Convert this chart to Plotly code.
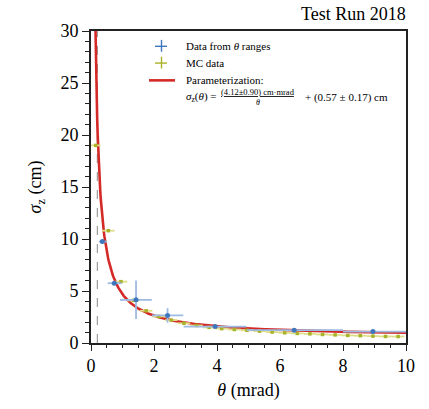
import numpy as np
import plotly.graph_objects as go

# ---------------- data ----------------
data_theta = [0.36, 0.74, 1.43, 2.43, 3.94, 6.45, 8.95]
data_sigma = [9.75, 5.75, 4.15, 2.65, 1.58, 1.23, 1.10]
data_theta_err_minus = [0.11, 0.21, 0.51, 0.50, 1.00, 1.50, 0.95]
data_theta_err_plus = [0.14, 0.23, 0.50, 0.50, 1.00, 1.55, 1.05]
data_sigma_err = [0.10, 0.15, 1.85, 0.70, 0.10, 0.10, 0.10]

mc_theta = [0.15, 0.55, 0.95, 1.35, 1.75, 2.15, 2.55, 2.95, 3.35, 3.75, 4.15, 4.55,
            4.95, 5.35, 5.75, 6.15, 6.55, 6.95, 7.35, 7.75, 8.15, 8.55, 8.95, 9.35, 9.75]
mc_sigma = [19.0, 10.8, 5.9, 4.1, 3.1, 2.55, 2.2, 1.9, 1.68, 1.5, 1.38, 1.30,
            1.22, 1.14, 1.05, 0.98, 0.92, 0.88, 0.82, 0.78, 0.73, 0.70, 0.66, 0.63, 0.62]
mc_theta_err = [0.15, 0.2, 0.2, 0.2, 0.2, 0.2, 0.2, 0.2, 0.2, 0.2, 0.2, 0.2,
                0.2, 0.2, 0.2, 0.2, 0.2, 0.2, 0.2, 0.2, 0.2, 0.2, 0.2, 0.2, 0.2]

legend_labels = ["Data from <i>θ</i> ranges", "MC data", "Parameterization:"]

fit_a = 4.12   # cm*mrad
fit_b = 0.57   # cm
theta_cut = 0.2

fit_theta = np.linspace(0.13, 10, 600)
fit_sigma = fit_a / fit_theta + fit_b

FONT = "Liberation Serif"
BLUE = "#3f77bd"
BLUE_ERR = "#9dbbe2"
MC = "#aab22a"
MC_ERR = "#dcdd86"
RED = "#d42a27"

fig = go.Figure()

fig.add_trace(go.Scatter(
    x=fit_theta, y=fit_sigma, mode="lines",
    line=dict(color=RED, width=2.6), showlegend=False))

fig.add_trace(go.Scatter(
    x=mc_theta, y=mc_sigma, mode="markers",
    marker=dict(color=MC, size=3.5, symbol="square"),
    error_x=dict(type="data", array=mc_theta_err, color=MC_ERR, thickness=1.8, width=0),
    showlegend=False))

fig.add_trace(go.Scatter(
    x=data_theta, y=data_sigma, mode="markers",
    marker=dict(color=BLUE, size=5),
    error_x=dict(type="data", symmetric=False, array=data_theta_err_plus,
                 arrayminus=data_theta_err_minus, color=BLUE_ERR, thickness=1.8, width=0),
    error_y=dict(type="data", array=data_sigma_err, color=BLUE_ERR, thickness=1.8, width=0),
    showlegend=False))

# plot geometry (px)
L, R, T, B = 91, 23, 31, 62
W, H = 429, 409
pw, ph = W - L - R, H - T - B

def px(xp):
    return (xp - L) / pw

def py(yp):
    return (H - B - yp) / ph

ann = []
for yy, lab in zip([46, 63, 81], legend_labels):
    ann.append(dict(x=px(184), y=py(yy), xref="paper", yref="paper",
                    xanchor="left", yanchor="middle", text=lab, showarrow=False,
                    font=dict(family=FONT, size=11, color="black")))
ann.append(dict(x=px(184), y=py(98), xref="paper", yref="paper", xanchor="left", yanchor="middle",
                text="<i>σ</i><sub>z</sub>(<i>θ</i>) = ", showarrow=False,
                font=dict(family=FONT, size=11, color="black")))
ann.append(dict(x=px(258), y=py(93), xref="paper", yref="paper", xanchor="center", yanchor="middle",
                text="<u>(4.12±0.90) cm·mrad</u>", showarrow=False,
                font=dict(family=FONT, size=8.5, color="black")))
ann.append(dict(x=px(258), y=py(103), xref="paper", yref="paper", xanchor="center", yanchor="middle",
                text="<i>θ</i>", showarrow=False,
                font=dict(family=FONT, size=8, color="black")))
ann.append(dict(x=px(303), y=py(98), xref="paper", yref="paper", xanchor="left", yanchor="middle",
                text="+ (0.57 ± 0.17) cm", showarrow=False,
                font=dict(family=FONT, size=11, color="black")))
ann.append(dict(x=px(408), y=py(14), xref="paper", yref="paper", xanchor="right", yanchor="middle",
                text="Test Run 2018", showarrow=False,
                font=dict(family=FONT, size=18, color="black")))

axis_common = dict(
    showgrid=False, zeroline=False, showline=True, linecolor="#222222", linewidth=1.6,
    mirror=True, ticks="outside", tickcolor="#222222", tickwidth=1.3,
    tickfont=dict(family=FONT, size=18, color="black"),
)

fig.update_layout(
    width=W, height=H,
    margin=dict(l=L, r=R, t=T, b=B),
    paper_bgcolor="white", plot_bgcolor="white",
    font=dict(family=FONT, color="black"),
    showlegend=False,
    annotations=ann,
    xaxis=dict(range=[0, 10], tick0=0, dtick=2, ticklen=6,
               minor=dict(ticks="outside", dtick=0.5, ticklen=3.5, tickcolor="#222222", tickwidth=1.1),
               title=dict(text="<i>θ</i> (mrad)", font=dict(family=FONT, size=18), standoff=8),
               **axis_common),
    yaxis=dict(range=[0, 30], tick0=0, dtick=5, ticklen=7,
               minor=dict(ticks="outside", dtick=1, ticklen=4, tickcolor="#222222", tickwidth=1.1),
               title=dict(text="<i>σ</i><sub>z</sub> (cm)", font=dict(family=FONT, size=18), standoff=14),
               **axis_common),
)

# cut line
fig.add_vline(x=theta_cut, line=dict(color="#888888", width=1, dash="dash"), layer="below")

# ---- manual legend glyphs (paper coords) ----
glyph_cx = 161
for yy, col in zip([46, 63], [BLUE, MC]):
    fig.add_shape(type="line", xref="paper", yref="paper",
                  x0=px(glyph_cx - 6), x1=px(glyph_cx + 6), y0=py(yy + 0.5), y1=py(yy + 0.5),
                  line=dict(color=col, width=1.4))
    fig.add_shape(type="line", xref="paper", yref="paper",
                  x0=px(glyph_cx + 0.5), x1=px(glyph_cx + 0.5), y0=py(yy - 6), y1=py(yy + 6),
                  line=dict(color=col, width=1.4))
fig.add_shape(type="line", xref="paper", yref="paper",
              x0=px(149), x1=px(175), y0=py(81), y1=py(81),
              line=dict(color=RED, width=2.6))

fig.write_html("out.html")
